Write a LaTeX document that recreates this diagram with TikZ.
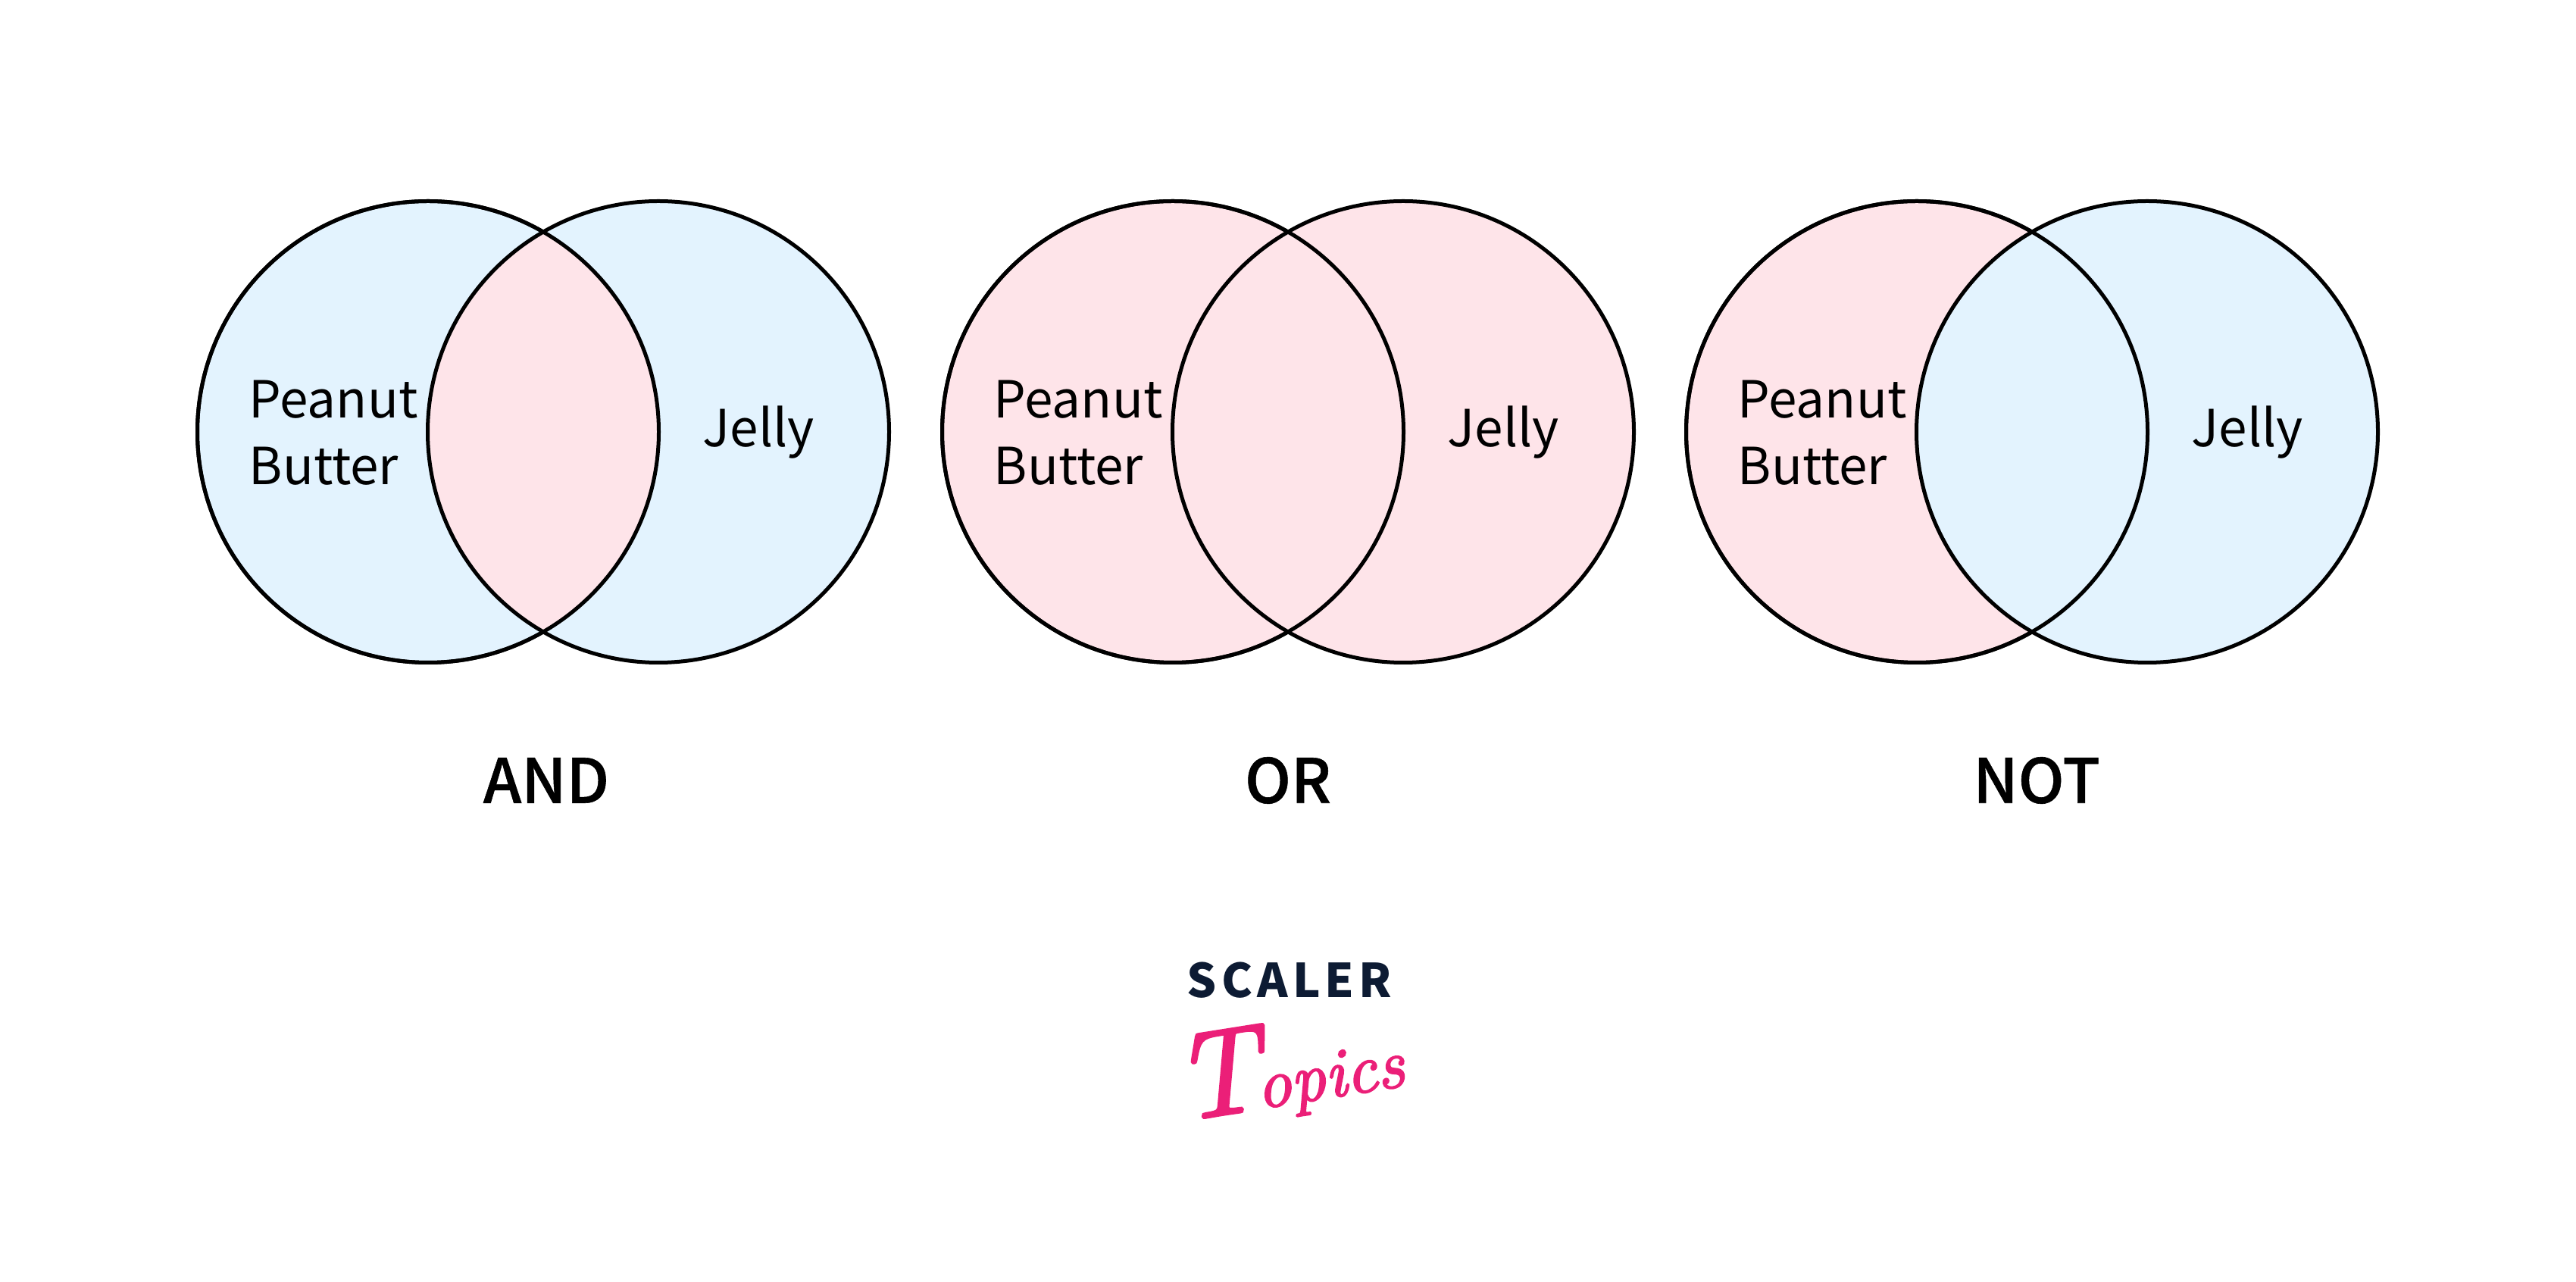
\documentclass[tikz,border=0pt]{standalone}
\usepackage{fontspec}
\usepackage{xcolor}
\setmainfont{Noto Sans CJK JP}
\newfontfamily\opfont[FakeBold=0.7]{Noto Sans CJK JP Medium}
\newfontfamily\logofont[ItalicFeatures={FakeBold=2.5}]{Latin Modern Roman}
\definecolor{skyfill}{HTML}{E3F3FE}
\definecolor{rosefill}{HTML}{FEE4E9}
\definecolor{scalernavy}{HTML}{0D1B33}
\definecolor{topicspink}{HTML}{EB1F78}
\usetikzlibrary{positioning}

\begin{document}
\begin{tikzpicture}[
    venn/.style={circle, draw=black, line width=0.05cm, minimum size=6.09cm, inner sep=0pt, outer sep=0pt},
    setlabel/.style={align=left, anchor=west, inner sep=0pt, font=\fontsize{19.2}{25.2}\selectfont},
    oplabel/.style={inner sep=0pt, font=\fontsize{23}{28}\opfont}
]
\useasboundingbox (0,0) rectangle (34,16.91);

% AND
\node[venn, fill=skyfill] (andl) at (5.65,11.21) {};
\node[venn, fill=skyfill, path picture={\fill[rosefill] (andl) circle (3.05);}] (andr) at (8.69,11.21) {};
\node[venn] (ando) at (andl) {};
\node[setlabel] (andp) at (3.28,11.20) {Peanut\\Butter};
\node[setlabel] (andj) at (9.27,11.20) {Jelly};
\node[oplabel] (andt) at (7.21,6.61) {AND};

% OR
\node[venn, fill=rosefill] (orl) at (15.48,11.21) {};
\node[venn, fill=rosefill] (orr) at (18.52,11.21) {};
\node[venn] (oro) at (orl) {};
\node[setlabel] (orp) at (13.11,11.20) {Peanut\\Butter};
\node[setlabel] (orj) at (19.10,11.20) {Jelly};
\node[oplabel] (ort) at (17.00,6.61) {OR};

% NOT
\node[venn, fill=rosefill] (notl) at (25.30,11.21) {};
\node[venn, fill=skyfill] (notr) at (28.34,11.21) {};
\node[venn] (notb) at (notl) {};
\node[setlabel] (notp) at (22.93,11.20) {Peanut\\Butter};
\node[setlabel] (notj) at (28.92,11.20) {Jelly};
\node[oplabel] (nott) at (26.88,6.61) {NOT};

% Logo
\node[inner sep=0pt, text=scalernavy, font=\fontsize{17.5}{20}\selectfont\bfseries\addfontfeature{LetterSpace=10}] (scaler) at (17.02,3.97) {SCALER};
\node[inner sep=0pt, text=topicspink, rotate=9, font=\logofont\itshape] (topics) at (17.00,2.80) {\fontsize{46}{46}\selectfont T\kern-2pt\fontsize{26}{26}\selectfont opics};
\end{tikzpicture}
\end{document}
